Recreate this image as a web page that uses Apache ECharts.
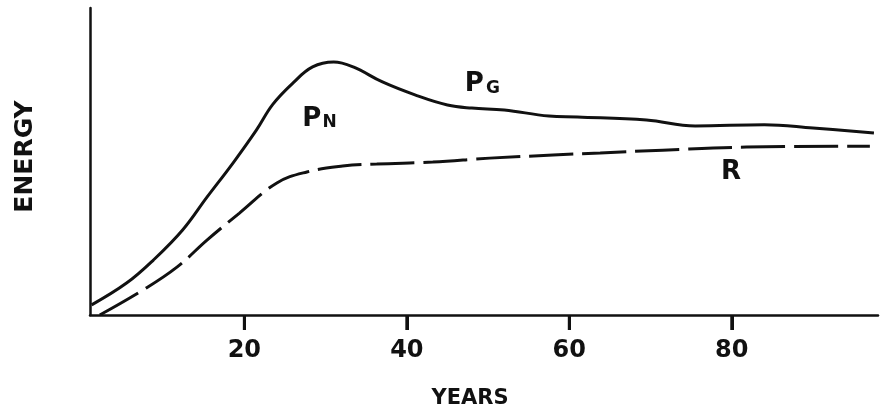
<!DOCTYPE html>
<html>
<head>
<meta charset="utf-8">
<script src="https://cdn.jsdelivr.net/npm/echarts@6/dist/echarts.min.js"></script>
<style>
  html, body { margin: 0; background: #fff; }
  #chart { width: 881px; height: 417px; }
</style>
</head>
<body>
<div id="chart"></div>
<script>
// values (energy in arbitrary units, 0-100)
const tickYears = [20, 40, 60, 80]

const pgYears = [1.2, 5.5, 8.8, 12.4, 15.4, 18.6, 21.5, 23.5, 26, 28.4, 31, 33.4, 37, 41, 45, 48, 52, 57.5, 61, 69.5, 75.5, 84, 90, 97.5]
const pgEnergy = [3.3, 10.4, 17.9, 27.7, 38.4, 49.5, 60.3, 68.6, 75.6, 80.8, 82.4, 80.8, 75.9, 71.7, 68.4, 67.4, 66.8, 64.8, 64.5, 63.5, 61.6, 62.0, 60.9, 59.3]

const rYears = [2.2, 7.5, 11.7, 15.4, 19.4, 24, 27.7, 32.1, 36.3, 43.2, 50.2, 58, 63.8, 71.5, 81.8, 97]
const rEnergy = [0, 8.1, 15.6, 24.4, 33.2, 43, 46.6, 48.5, 49.2, 49.8, 51.1, 52.1, 52.8, 53.7, 54.7, 55]

// curve names, drawn as a big letter plus a small subscript letter
const labelText = ['P', 'N', 'P', 'G', 'R']
const labelSub = [false, true, false, true, false]
const labelYears = [28.3, 30.5, 48.3, 50.6, 79.9]
const labelEnergy = [63.6, 62.6, 75.2, 73.6, 46.6]

const ink = '#111'
const font = 'DejaVu Sans'

const zip = (xs, ys) => xs.map((x, i) => [x, ys[i]])

const chart = echarts.init(document.getElementById('chart'))

chart.setOption({
  animation: false,
  grid: { left: 90, right: 3, top: 8, bottom: 102 },
  xAxis: {
    type: 'value',
    min: 1,
    max: 98,
    name: 'YEARS',
    nameLocation: 'middle',
    nameGap: 73,
    nameTextStyle: { color: ink, fontFamily: font, fontWeight: 'bold', fontSize: 21, padding: [0, 28, 0, 0] },
    axisLine: { lineStyle: { color: ink, width: 2.5 } },
    axisTick: { show: true, customValues: tickYears, length: 15, lineStyle: { color: ink, width: 3 } },
    axisLabel: { customValues: tickYears, margin: 24, color: ink, fontFamily: font, fontWeight: 'bold', fontSize: 24 },
    splitLine: { show: false }
  },
  yAxis: {
    type: 'value',
    min: 0,
    max: 100,
    name: 'ENERGY',
    nameLocation: 'middle',
    nameGap: 52,
    nameTextStyle: { color: ink, fontFamily: font, fontWeight: 'bold', fontSize: 25, padding: [0, 0, 0, 10] },
    axisLine: { show: true, lineStyle: { color: ink, width: 2.5 } },
    axisTick: { show: false },
    axisLabel: { show: false },
    splitLine: { show: false }
  },
  series: [
    {
      name: 'PG',
      type: 'line',
      data: zip(pgYears, pgEnergy),
      smooth: 0.4,
      symbol: 'none',
      lineStyle: { color: ink, width: 3 },
      markPoint: {
        symbol: 'circle',
        symbolSize: 0,
        data: labelText.map((t, i) => ({
          coord: [labelYears[i], labelEnergy[i]],
          label: {
            show: true,
            formatter: t,
            color: ink,
            fontFamily: font,
            fontWeight: 'bold',
            fontSize: labelSub[i] ? 17 : 26
          }
        }))
      }
    },
    {
      name: 'R',
      type: 'line',
      data: zip(rYears, rEnergy),
      smooth: 0.4,
      symbol: 'none',
      lineStyle: { color: ink, width: 3, type: [44, 9] }
    },
    {
      // tick marks under the axis, placed through the axis scale
      name: 'ticks',
      type: 'custom',
      clip: false,
      data: tickYears.map(v => [v, 0]),
      renderItem: (params, api) => {
        const p = api.coord([api.value(0), api.value(1)])
        return {
          type: 'rect',
          shape: { x: p[0] - 1.5, y: p[1], width: 3, height: 15 },
          style: { fill: ink }
        }
      }
    }
  ]
})
</script>
</body>
</html>
